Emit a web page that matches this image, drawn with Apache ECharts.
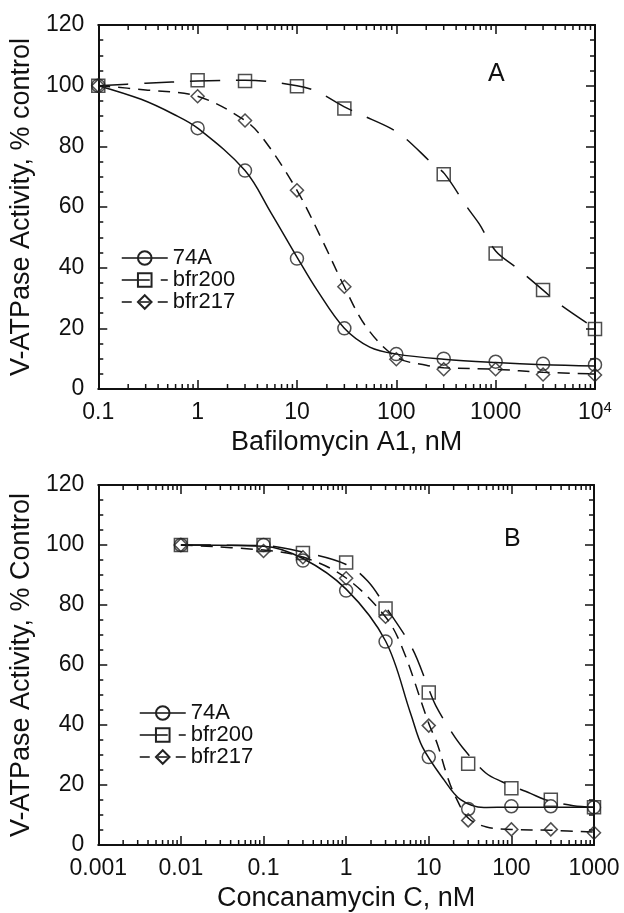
<!DOCTYPE html>
<html><head><meta charset="utf-8">
<script src="https://cdn.jsdelivr.net/npm/echarts@6/dist/echarts.min.js"></script>
<style>html,body{margin:0;padding:0;background:#fff}#c{width:624px;height:913px}</style>
</head><body><div id="c"></div>
<script>
// ---------- Panel A: Bafilomycin A1 ----------
const concA = [0.1, 1, 3, 10, 30, 100, 300, 1000, 3000, 10000];
const ptsA_74A    = [100, 86, 72, 43, 20, 11.5, 10, 9, 8.3, 8];
const ptsA_bfr200 = [100, 101.8, 101.5, 99.8, 92.5, null, 70.8, 44.7, 32.6, 19.8];
const ptsA_bfr217 = [100, 96.5, 88.5, 65.5, 33.7, 9.8, 6.5, 6.5, 4.8, 4.6];
// fitted curves as [conc, activity]
const fitA_74A = [[0.1,100],[0.27,95.5],[0.58,90.5],[1,86],[3,72],[5.5,58],[10,43.5],[16,32.5],[30,20],[54,13.8],[100,11.5],[300,9.8],[1000,8.7],[3000,8],[10000,7.6]];
const fitA_bfr200 = [[0.1,100],[0.3,100.8],[1,101.5],[3,101.8],[10,100],[16,98],[30,93],[45,90.3],[87,86],[123,82.7],[229,74.4],[305,71],[514,60],[681,54.5],[1000,45.5],[1574,40.3],[3000,32.6],[4270,28.3],[10000,20]];
const fitA_bfr217 = [[0.1,100],[0.3,98.6],[1,96.5],[3,88.5],[4.7,82],[10,65.5],[18,49],[30,33.7],[50,20.4],[100,10.5],[200,7.8],[300,7],[1000,6.5],[3000,5.5],[10000,5]];
const xTicksA = [0.1, 1, 10, 100, 1000, 10000];
const xTickLabelsA = ['0.1', '1', '10', '100', '1000', '{base|10}{sup|4}'];
const decadesA = [0.1, 1, 10, 100, 1000];

// ---------- Panel B: Concanamycin C ----------
const concB = [0.01, 0.1, 0.3, 1, 3, 10, 30, 100, 300, 1000];
const ptsB_74A    = [100, 100, 94.8, 84.8, 67.8, 29.3, 12, 12.9, 12.9, 12.6];
const ptsB_bfr200 = [100, 100, 97.3, 94.2, 78.8, 50.8, 27.1, 18.9, 15.1, 12.6];
const ptsB_bfr217 = [100, 98, 95.9, 88.9, 76.1, 39.8, 8.2, 5.2, 5.2, 4.1];
const fitB_74A = [[0.01,100],[0.1,99.6],[0.3,95.5],[1,85.3],[3,68],[6.07,43.6],[8.4,32.6],[15.3,21.7],[24.3,15.1],[46.5,12.5],[100,12.6],[1000,12.6]];
const fitB_bfr200 = [[0.01,100],[0.1,99.8],[0.3,97.6],[1,93.5],[1.82,88],[3,79.5],[6.3,65.6],[10,52],[12.2,46.4],[18.4,38.1],[25.5,32.6],[48.6,24.1],[77,21.1],[170,17.2],[258,15.1],[562,13.1],[1000,12.6]];
const fitB_bfr217 = [[0.01,100],[0.1,98.3],[0.3,96],[1,89],[3,76],[4.8,65.6],[10,40.5],[12.7,33.7],[16.8,22.8],[21,16.2],[30,9],[50,6],[100,5.2],[300,4.9],[1000,4.3]];
const xTicksB = [0.001, 0.01, 0.1, 1, 10, 100, 1000];
const xTickLabelsB = ['0.001', '0.01', '0.1', '1', '10', '100', '1000'];
const decadesB = [0.001, 0.01, 0.1, 1, 10, 100];

const minorMult = [2, 3, 4, 5, 6, 7, 8, 9];
const seriesNames = ['74A', 'bfr200', 'bfr217'];

// ---------- styling ----------
const FF = '"Liberation Sans", Arial, Helvetica, sans-serif';
const INK = '#111';
const axisLineStyle = {color: INK, width: 2};
const tickStyle = {color: INK, width: 1.5};
const look = {
  '74A':    {symbol: 'circle',  dash: 'solid',  legendDash: 'solid'},
  'bfr200': {symbol: 'rect',    dash: [30, 16], legendDash: [28, 11]},
  'bfr217': {symbol: 'diamond', dash: [12, 8],  legendDash: [10, 8]}
};
const markerStyle = {color: 'rgba(255,255,255,0)', borderColor: '#222', borderWidth: 1.5};

function labelFor(v, ticks, labels) {
  for (let i = 0; i < ticks.length; i++) {
    if (Math.abs(Math.log10(ticks[i]) - Math.log10(v)) < 1e-6) return labels[i];
  }
  return '';
}

function xAxes(gridIndex, min, max, split, ticks, labels, name) {
  const common = {
    type: 'log', logBase: 10, min: min, max: max, splitNumber: split, gridIndex: gridIndex,
    splitLine: {show: false},
    axisLine: {show: true, onZero: false, lineStyle: axisLineStyle},
    axisTick: {show: true, inside: true, length: 9, lineStyle: tickStyle}
  };
  return [
    Object.assign({}, common, {
      position: 'bottom', name: name, nameLocation: 'middle', nameGap: 40,
      nameTextStyle: {fontFamily: FF, fontSize: 27, color: INK},
      axisLabel: {
        show: true, margin: 11, fontFamily: FF, fontSize: 23, color: INK, lineHeight: 26,
        showMinLabel: true, showMaxLabel: true, hideOverlap: false,
        formatter: function (v) { return labelFor(v, ticks, labels); },
        rich: {
          base: {fontFamily: FF, fontSize: 23, lineHeight: 26, color: INK},
          sup: {fontFamily: FF, fontSize: 15, lineHeight: 14, verticalAlign: 'top', color: INK}
        }
      }
    }),
    Object.assign({}, common, {position: 'top', axisLabel: {show: false}})
  ];
}

function yAxes(gridIndex, name) {
  const common = {
    type: 'value', gridIndex: gridIndex, min: 0, max: 120, interval: 20,
    splitLine: {show: false}, minorSplitLine: {show: false},
    axisLine: {show: true, onZero: false, lineStyle: axisLineStyle},
    axisTick: {show: true, inside: true, length: 9, lineStyle: tickStyle},
    minorTick: {show: true, splitNumber: 4, length: 5, lineStyle: tickStyle}
  };
  return [
    Object.assign({}, common, {
      position: 'left', name: name, nameLocation: 'middle', nameGap: 57, nameRotate: 90,
      nameTextStyle: {fontFamily: FF, fontSize: 27, color: INK},
      axisLabel: {show: true, margin: 14, fontFamily: FF, fontSize: 23, color: INK}
    }),
    Object.assign({}, common, {position: 'right', axisLabel: {show: false}})
  ];
}

function curveSeries(name, pts, ax) {
  return {
    type: 'line', name: name, xAxisIndex: ax, yAxisIndex: ax, data: pts,
    showSymbol: false, symbol: look[name].symbol, symbolSize: 13,
    smooth: 0.35, silent: true, z: 2,
    lineStyle: {color: '#111', width: 1.5, type: look[name].dash},
    itemStyle: markerStyle
  };
}

function pointSeries(name, xs, ys, ax) {
  const data = [];
  xs.forEach(function (x, i) { if (ys[i] != null) data.push([x, ys[i]]); });
  return {
    type: 'scatter', name: name, xAxisIndex: ax, yAxisIndex: ax, data: data,
    symbol: look[name].symbol, symbolSize: 13, clip: false, silent: true, z: 3,
    itemStyle: markerStyle
  };
}

function minorTickSeries(decades, ax) {
  const vals = [];
  decades.forEach(function (d) { minorMult.forEach(function (m) { vals.push([m * d, 0]); }); });
  return {
    type: 'custom', xAxisIndex: ax, yAxisIndex: ax, data: vals, silent: true, z: 10, clip: false,
    encode: {x: 0, y: 1},
    renderItem: function (params, api) {
      const v = api.value(0);
      const b = api.coord([v, 0]);
      const t = api.coord([v, 120]);
      return {type: 'group', children: [
        {type: 'line', shape: {x1: b[0], y1: b[1], x2: b[0], y2: b[1] - 5}, style: {stroke: INK, lineWidth: 1.5}},
        {type: 'line', shape: {x1: t[0], y1: t[1], x2: t[0], y2: t[1] + 5}, style: {stroke: INK, lineWidth: 1.5}}
      ]};
    }
  };
}

function legendData() {
  return seriesNames.map(function (n) {
    return {name: n, lineStyle: {color: '#111', width: 1.5, type: look[n].legendDash}};
  });
}

const chart = echarts.init(document.getElementById('c'), null, {renderer: 'canvas'});
chart.setOption({
  animation: false,
  backgroundColor: '#fff',
  textStyle: {fontFamily: FF},
  title: [
    {text: 'A', left: 488, top: 62, padding: 0, textStyle: {fontFamily: FF, fontSize: 25, fontWeight: 'normal', color: INK}},
    {text: 'B', left: 504, top: 527, padding: 0, textStyle: {fontFamily: FF, fontSize: 25, fontWeight: 'normal', color: INK}}
  ],
  legend: [
    {data: legendData(), orient: 'vertical', left: 121, top: 247, padding: 0, itemGap: 0,
     itemWidth: 46, itemHeight: 17, selectedMode: false,
     textStyle: {fontFamily: FF, fontSize: 22, lineHeight: 20, color: INK}},
    {data: legendData(), orient: 'vertical', left: 139, top: 702, padding: 0, itemGap: 0,
     itemWidth: 46, itemHeight: 17, selectedMode: false,
     textStyle: {fontFamily: FF, fontSize: 22, lineHeight: 22, color: INK}}
  ],
  grid: [
    {left: 97, top: 25, width: 498, height: 364},
    {left: 96, top: 485, width: 498, height: 364}
  ],
  xAxis: xAxes(0, 0.1, 10000, 5, xTicksA, xTickLabelsA, 'Bafilomycin A1, nM')
    .concat(xAxes(1, 0.001, 1000, 6, xTicksB, xTickLabelsB, 'Concanamycin C, nM')),
  yAxis: yAxes(0, 'V-ATPase Activity, % control').concat(yAxes(1, 'V-ATPase Activity, % Control')),
  series: [
    curveSeries('74A', fitA_74A, 0),
    curveSeries('bfr200', fitA_bfr200, 0),
    curveSeries('bfr217', fitA_bfr217, 0),
    pointSeries('74A', concA, ptsA_74A, 0),
    pointSeries('bfr200', concA, ptsA_bfr200, 0),
    pointSeries('bfr217', concA, ptsA_bfr217, 0),
    minorTickSeries(decadesA, 0),
    curveSeries('74A', fitB_74A, 2),
    curveSeries('bfr200', fitB_bfr200, 2),
    curveSeries('bfr217', fitB_bfr217, 2),
    pointSeries('74A', concB, ptsB_74A, 2),
    pointSeries('bfr200', concB, ptsB_bfr200, 2),
    pointSeries('bfr217', concB, ptsB_bfr217, 2),
    minorTickSeries(decadesB, 2)
  ]
});
</script>
</body></html>
